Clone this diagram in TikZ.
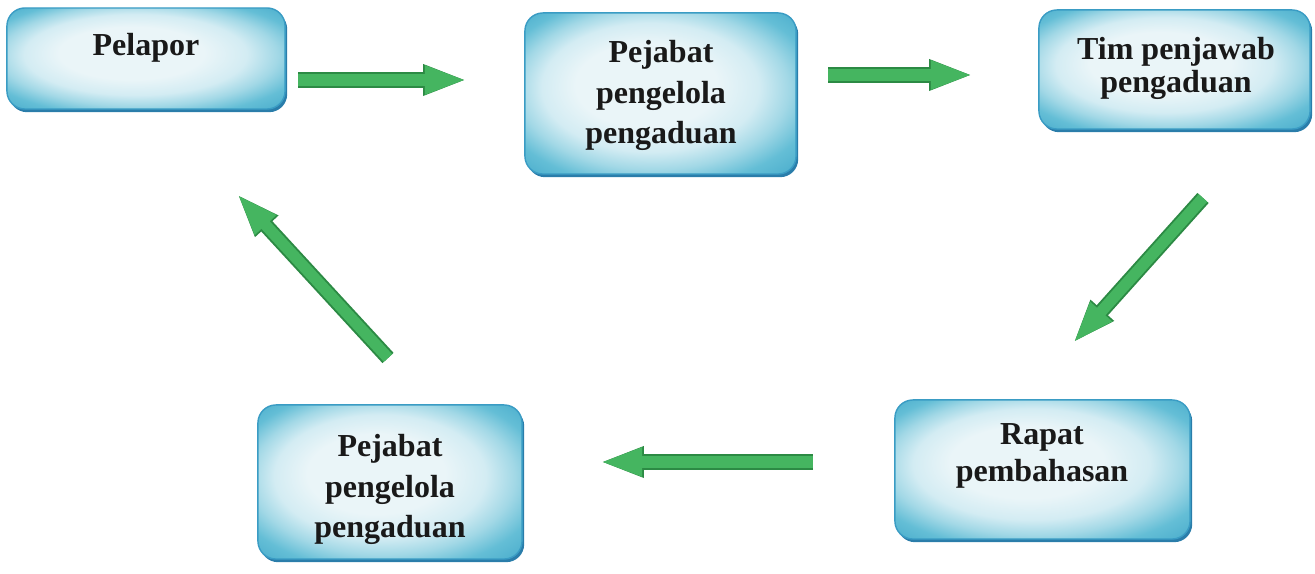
\documentclass[tikz,border=0pt]{standalone}
\usepackage{fontspec}
\setmainfont{Liberation Serif}
\usetikzlibrary{arrows.meta,shadows}
\definecolor{boxA}{HTML}{EAF5F8}
\definecolor{boxB}{HTML}{D3ECF3}
\definecolor{boxC}{HTML}{A2D8E6}
\definecolor{boxD}{HTML}{64BED6}
\definecolor{boxE}{HTML}{3FA6C8}
\definecolor{boxEdge}{HTML}{3A9CC4}
\definecolor{boxShadow}{HTML}{2A7DAA}
\definecolor{arrGreen}{HTML}{45B560}
\definecolor{arrDark}{HTML}{2C8A44}
\pgfdeclareradialshading{boxshade}{\pgfpoint{-4bp}{4bp}}{%
  color(0bp)=(boxA); color(13bp)=(boxA); color(20bp)=(boxB); color(25bp)=(boxC); color(30bp)=(boxD); color(38bp)=(boxE)}
\tikzset{
  flowbox/.style={rectangle, rounded corners=0.18cm, shading=boxshade, draw=boxEdge, line width=0.4pt,
    drop shadow={shadow xshift=0.6pt, shadow yshift=-0.9pt, fill=boxShadow, opacity=1}, inner sep=0pt},
  boxtext/.style={align=center, inner sep=0pt, text=black!90,
    font=\fontsize{9.1pt}{#1}\selectfont\bfseries},
  flowarrow/.style={draw=arrDark, line width=4.3pt, line cap=butt,
    -{Triangle[length=12.5pt, width=8pt, fill=arrDark]}},
  flowarrowlight/.style={draw=arrGreen, line width=3.2pt, line cap=butt,
    -{Triangle[length=12pt, width=7.4pt, fill=arrGreen]}},
}
\begin{document}
\begin{tikzpicture}[x=0.01cm, y=-0.01cm]
\useasboundingbox (0,0) rectangle (1315,574);
% boxes
\node[flowbox, minimum width=2.78cm, minimum height=1.01cm] (b1) at (146,58.5) {};
\node[flowbox, minimum width=2.71cm, minimum height=1.61cm] (b2) at (660.5,93.5) {};
\node[flowbox, minimum width=2.71cm, minimum height=1.19cm] (b3) at (1174.5,69.5) {};
\node[flowbox, minimum width=2.95cm, minimum height=1.39cm] (b4) at (1042.5,469.5) {};
\node[flowbox, minimum width=2.64cm, minimum height=1.54cm] (b5) at (390,482) {};
% texts
\node[boxtext=11pt] (t1) at (146,47.5) {Pelapor};
\node[boxtext=11.4pt] (t2) at (661,95.5) {Pejabat\\pengelola\\pengaduan};
\node[boxtext=9.2pt] (t3) at (1176,68.5) {Tim penjawab\\pengaduan};
\node[boxtext=10.5pt] (t4) at (1042,456) {Rapat\\pembahasan};
\node[boxtext=11.4pt] (t5) at (390,489.5) {Pejabat\\pengelola\\pengaduan};
% arrow end points
\coordinate (a1s) at (298,80);  \coordinate (a1e) at (467,80);
\coordinate (a2s) at (828,75);  \coordinate (a2e) at (973,75);
\coordinate (a3s) at (1203,198); \coordinate (a3e) at (1073,343);
\coordinate (a4s) at (813,462); \coordinate (a4e) at (600,462);
\coordinate (a5s) at (388,358); \coordinate (a5e) at (237,194);
% arrows (dark body, lighter upper face)
\draw[flowarrow] (a1s) -- (a1e);
\draw[flowarrowlight, shift={(0,-2.5)}] (a1s) -- (a1e);
\draw[flowarrow] (a2s) -- (a2e);
\draw[flowarrowlight, shift={(0,-2.5)}] (a2s) -- (a2e);
\draw[flowarrow] (a3s) -- (a3e);
\draw[flowarrowlight, shift={(-1.8,-1.6)}] (a3s) -- (a3e);
\draw[flowarrow] (a4s) -- (a4e);
\draw[flowarrowlight, shift={(0,-2.5)}] (a4s) -- (a4e);
\draw[flowarrow] (a5s) -- (a5e);
\draw[flowarrowlight, shift={(-1.8,1.6)}] (a5s) -- (a5e);
\end{tikzpicture}
\end{document}
